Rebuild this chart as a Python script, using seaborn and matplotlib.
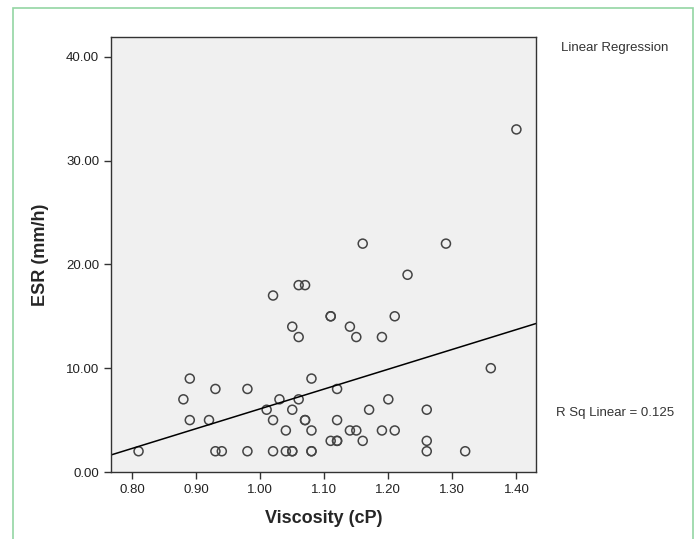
import seaborn as sns
import matplotlib.pyplot as plt
import pandas as pd
from matplotlib.patches import Rectangle

# Viscosity (cP) and ESR (mm/h)
viscosity = [0.81, 0.88, 0.89, 0.89, 0.92, 0.93, 0.93, 0.94, 0.98, 0.98,
             1.01, 1.02, 1.02, 1.02, 1.03, 1.04, 1.04, 1.05, 1.05, 1.05,
             1.05, 1.06, 1.06, 1.06, 1.07, 1.07, 1.07, 1.08, 1.08, 1.08,
             1.08, 1.11, 1.11, 1.11, 1.12, 1.12, 1.12, 1.12, 1.14, 1.14,
             1.15, 1.15, 1.16, 1.16, 1.17, 1.19, 1.19, 1.20, 1.21, 1.21,
             1.23, 1.26, 1.26, 1.26, 1.29, 1.32, 1.36, 1.40]
esr = [2, 7, 9, 5, 5, 8, 2, 2, 8, 2,
       6, 17, 5, 2, 7, 4, 2, 14, 6, 2,
       2, 18, 13, 7, 18, 5, 5, 9, 4, 2,
       2, 15, 15, 3, 8, 5, 3, 3, 14, 4,
       13, 4, 22, 3, 6, 13, 4, 7, 15, 4,
       19, 6, 3, 2, 22, 2, 10, 33]

df = pd.DataFrame({'Viscosity (cP)': viscosity, 'ESR (mm/h)': esr})

sns.set_style('white')
plt.rcParams['font.family'] = ['Liberation Sans', 'DejaVu Sans']

fig = plt.figure(figsize=(6.96, 5.39), dpi=100)
ax = fig.add_axes([0.1595, 0.1243, 0.611, 0.807])
ax.set_facecolor('#f0f0f0')
ax.set_xlim(0.767, 1.431)
ax.set_ylim(0, 41.9)

# fitted line across the whole frame
sns.regplot(data=df, x='Viscosity (cP)', y='ESR (mm/h)', ax=ax, ci=None,
            truncate=False, scatter=False, line_kws={'color': 'black', 'lw': 1.1})
sns.scatterplot(data=df, x='Viscosity (cP)', y='ESR (mm/h)', ax=ax, s=42,
                facecolor='none', edgecolor='#444444', linewidth=1.1)
ax.set_xlim(0.767, 1.431)
ax.set_ylim(0, 41.9)

ax.set_xticks([0.8, 0.9, 1.0, 1.1, 1.2, 1.3, 1.4])
ax.set_yticks([0, 10, 20, 30, 40])
ax.xaxis.set_major_formatter(plt.FormatStrFormatter('%.2f'))
ax.yaxis.set_major_formatter(plt.FormatStrFormatter('%.2f'))
ax.tick_params(direction='out', length=5, width=1, color='#333333',
               labelsize=9.5, labelcolor='#222222', bottom=True, left=True)
for s in ax.spines.values():
    s.set_color('#333333')
    s.set_linewidth(1)

ax.set_xlabel('Viscosity (cP)', fontsize=13, fontweight='bold', labelpad=10)
ax.set_ylabel('ESR (mm/h)', fontsize=13, fontweight='bold', labelpad=12)

fig.text(0.883, 0.911, 'Linear Regression', fontsize=9.5, color='#333333',
         ha='center', va='center')
fig.text(0.883, 0.234, 'R Sq Linear = 0.125', fontsize=9.5, color='#333333',
         ha='center', va='center')

# thin green frame around the figure
fig.patches.append(Rectangle((13 / 696, -0.05), 680 / 696, 1.05 - 8 / 539,
                             transform=fig.transFigure, fill=False,
                             edgecolor='#93d6a3', linewidth=1.2))

fig.savefig('out.png', dpi=100)
